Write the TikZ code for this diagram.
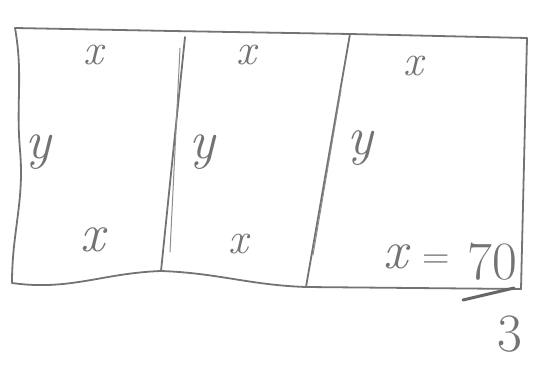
\documentclass[tikz,border=0pt]{standalone}
\usepackage{tikz}
\begin{document}
\begin{tikzpicture}[x=1pt,y=-1pt,
  pen/.style={draw=black!55,line width=1.8pt,line cap=round,line join=round},
  thin pen/.style={draw=black!45,line width=1pt,line cap=round},
  lbl/.style={text=black!55,font=\fontsize{44}{44}\selectfont\itshape,inner sep=0pt},
  biglbl/.style={lbl,font=\fontsize{54}{54}\selectfont\itshape},
  numlbl/.style={text=black!55,font=\fontsize{54}{54}\selectfont,inner sep=0pt},
  eqlbl/.style={text=black!55,font=\fontsize{38}{38}\selectfont,inner sep=0pt}]
\useasboundingbox (0,0) rectangle (534,364);
% corners
\coordinate (tl) at (15,28);
\coordinate (t1) at (172,31);
\coordinate (t2) at (350,34);
\coordinate (tr) at (527,38);
\coordinate (br) at (521,289);
\coordinate (b2) at (306,287);
\coordinate (b1) at (161,271);
\coordinate (bl) at (12,283);
% outline
\draw[pen] (tl) to[out=-80,in=95] (20,150) to[out=-85,in=90] (bl);
\draw[pen] (tl) -- (t1) -- (t2) -- (tr);
\draw[pen] (tr) -- (br);
\draw[pen] (bl) to[out=-8,in=182] (b1) to[out=-2,in=178] (b2) -- (br);
% dividers
\draw[pen] (185,37) -- (b1);
\draw[thin pen] (180,48) -- (170,252);
\draw[pen] (t2) -- (b2);
\draw[thin pen] (341,90) -- (313,255);
% labels
\node[lbl] (xa) at (93,55) {x};
\node[lbl] (xb) at (246,55) {x};
\node[lbl] (xc) at (413,66) {x};
\node[biglbl] (ya) at (38,152) {y};
\node[biglbl] (yb) at (202,152) {y};
\node[biglbl] (yc) at (360,148) {y};
\node[biglbl] (xd) at (93,240) {x};
\node[lbl] (xe) at (238,244) {x};
\node[biglbl] (xf) at (396,257) {x};
\node[eqlbl] (eq) at (436,262) {=};
\node[numlbl] (num) at (492,262) {70};
\node[numlbl] (den) at (510,334) {3};
\coordinate (barl) at (463,300);
\coordinate (barr) at (514,288);
\draw[pen,line width=3pt,draw=black!60] (barl) -- (barr);
\end{tikzpicture}
\end{document}
